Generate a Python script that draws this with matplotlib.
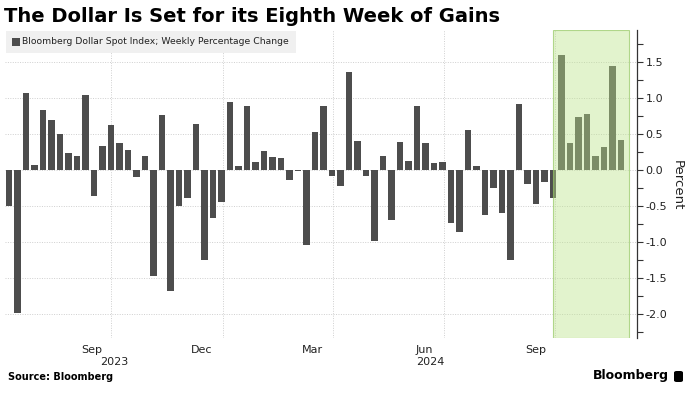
import matplotlib
matplotlib.use('Agg')
import matplotlib.pyplot as plt
import matplotlib.transforms as mtransforms
import matplotlib.dates as mdates
from matplotlib.patches import Rectangle, FancyBboxPatch
import pandas as pd

# ---------------- data ----------------
weeks = pd.date_range('2023-07-09', periods=73, freq='7D')
changes = [
    -0.50, -1.98, 1.06, 0.07, 0.83, 0.69, 0.50, 0.23, 0.19, 1.04,
    -0.36, 0.33, 0.625, 0.375, 0.28, -0.10, 0.19, -1.47, 0.76, -1.68,
    -0.50, -0.385, 0.64, -1.25, -0.66, -0.45, 0.935, 0.055, 0.88, 0.11,
    0.26, 0.185, 0.16, -0.14, -0.02, -1.04, 0.52, 0.89, -0.08, -0.22,
    1.36, 0.40, -0.08, -0.99, 0.20, -0.70, 0.39, 0.13, 0.88, 0.37,
    0.09, 0.115, -0.73, -0.86, 0.555, 0.06, -0.625, -0.25, -0.60, -1.245,
    0.915, -0.195, -0.47, -0.17, -0.39, 1.59, 0.37, 0.74, 0.77, 0.20,
    0.32, 1.435, 0.41,
]
title = 'The Dollar Is Set for its Eighth Week of Gains'
series_label = 'Bloomberg Dollar Spot Index; Weekly Percentage Change'
month_labels = ['Sep', 'Dec', 'Mar', 'Jun', 'Sep']
month_label_dates = pd.to_datetime(['2023-09-15', '2023-12-15', '2024-03-15',
                                    '2024-06-15', '2024-09-15'])
grid_dates = pd.to_datetime(['2023-10-01', '2024-01-01', '2024-04-01',
                             '2024-07-01', '2024-10-01'])
year_labels = ['2023', '2024']
year_start_2024 = pd.Timestamp('2024-01-01')
y_ticks = [-2.0, -1.5, -1.0, -0.5, 0.0, 0.5, 1.0, 1.5]
y_minor = [-2.25, -1.75, -1.25, -0.75, -0.25, 0.25, 0.75, 1.25, 1.75]
streak_start = pd.Timestamp('2024-09-29')
streak_end = pd.Timestamp('2024-12-01')

# ---------------- style ----------------
plt.rcParams['font.family'] = ['DejaVu Sans']
plt.rcParams['axes.unicode_minus'] = False
bar_color = '#4d4d4d'
text_color = '#222222'

W, H = 690, 396
fig = plt.figure(figsize=(W / 100, H / 100), dpi=100)
ax = fig.add_axes([5 / W, 58 / H, 632 / W, 308 / H])

ax.bar(weeks, changes, width=5, color=bar_color, zorder=2)
ax.axvspan(streak_start, streak_end,
           facecolor=(188 / 255, 228 / 255, 138 / 255, 0.42),
           edgecolor=(150 / 255, 200 / 255, 100 / 255, 0.7), lw=0.8, zorder=3)

ax.set_xlim(weeks[0] - pd.Timedelta(days=3.3), weeks[-1] + pd.Timedelta(days=13.2))
ax.set_ylim(-2.33, 1.94)

# spines
for s in ['left', 'top', 'bottom']:
    ax.spines[s].set_visible(False)
ax.spines['right'].set_color('#333333')
ax.spines['right'].set_linewidth(0.9)

# y axis on right
ax.yaxis.tick_right()
ax.set_yticks(y_ticks)
ax.set_yticklabels([f'{v:.1f}' for v in y_ticks])
ax.set_yticks(y_minor, minor=True)
ax.tick_params(axis='y', which='major', length=4, width=0.8, color='#333333',
               labelsize=8, labelcolor=text_color, pad=2)
ax.tick_params(axis='y', which='minor', length=4, width=0.8, color='#333333')

# x axis: gridlines at quarter boundaries, labels mid-month
ax.set_xticks(grid_dates)
ax.set_xticklabels([''] * len(grid_dates))
ax.set_xticks(month_label_dates, minor=True)
ax.set_xticklabels(month_labels, minor=True)
ax.tick_params(axis='x', which='both', length=0, labelsize=8, labelcolor=text_color, pad=5)

ax.grid(axis='both', which='major', color='#cfcfcf', linestyle=(0, (1, 1.5)), lw=0.7, zorder=1)
ax.set_axisbelow(True)

# year labels centred under the visible part of each year
x0, x1 = ax.get_xlim()
ys = mdates.date2num(year_start_2024)
trans = mtransforms.blended_transform_factory(ax.transData, ax.transAxes)
for lab, xc in zip(year_labels, [(x0 + ys) / 2, (ys + x1) / 2]):
    ax.text(xc, -0.078, lab, transform=trans, ha='center', va='center',
            fontsize=8, color=text_color)

# Percent label
fig.text(677 / W, 1 - 185 / H, 'Percent', rotation=270, ha='center', va='center',
         fontsize=9.5, color=text_color)

# title
fig.text(4 / W, 1 - 17 / H, title, fontsize=14, fontweight='bold', va='center',
         ha='left', color='#000000')

# legend box
ax.add_patch(Rectangle((6 / W, 1 - 53 / H), 290 / W, 22 / H, transform=fig.transFigure,
                       facecolor='#f0f0f0', edgecolor='none', zorder=6, clip_on=False))
ax.add_patch(Rectangle((12 / W, 1 - 46 / H), 8 / W, 8 / H, transform=fig.transFigure,
                       facecolor=bar_color, edgecolor='none', zorder=7, clip_on=False))
fig.text(22 / W, 1 - 42 / H, series_label, fontsize=6.7, va='center', ha='left',
         color=text_color, zorder=8)

# footer
fig.text(8 / W, 1 - 377 / H, 'Source: Bloomberg', fontsize=7, fontweight='bold',
         va='center', ha='left', color='#000000')
fig.text(669 / W, 1 - 376 / H, 'Bloomberg', fontsize=9, fontweight='bold',
         va='center', ha='right', color='#000000')
fig.patches.append(FancyBboxPatch((674 / W, 1 - 382 / H), 9 / W, 11 / H,
                                  boxstyle='round,pad=0,rounding_size=0.004',
                                  transform=fig.transFigure, facecolor='#000000',
                                  edgecolor='none'))

fig.savefig('out.png', dpi=100)
